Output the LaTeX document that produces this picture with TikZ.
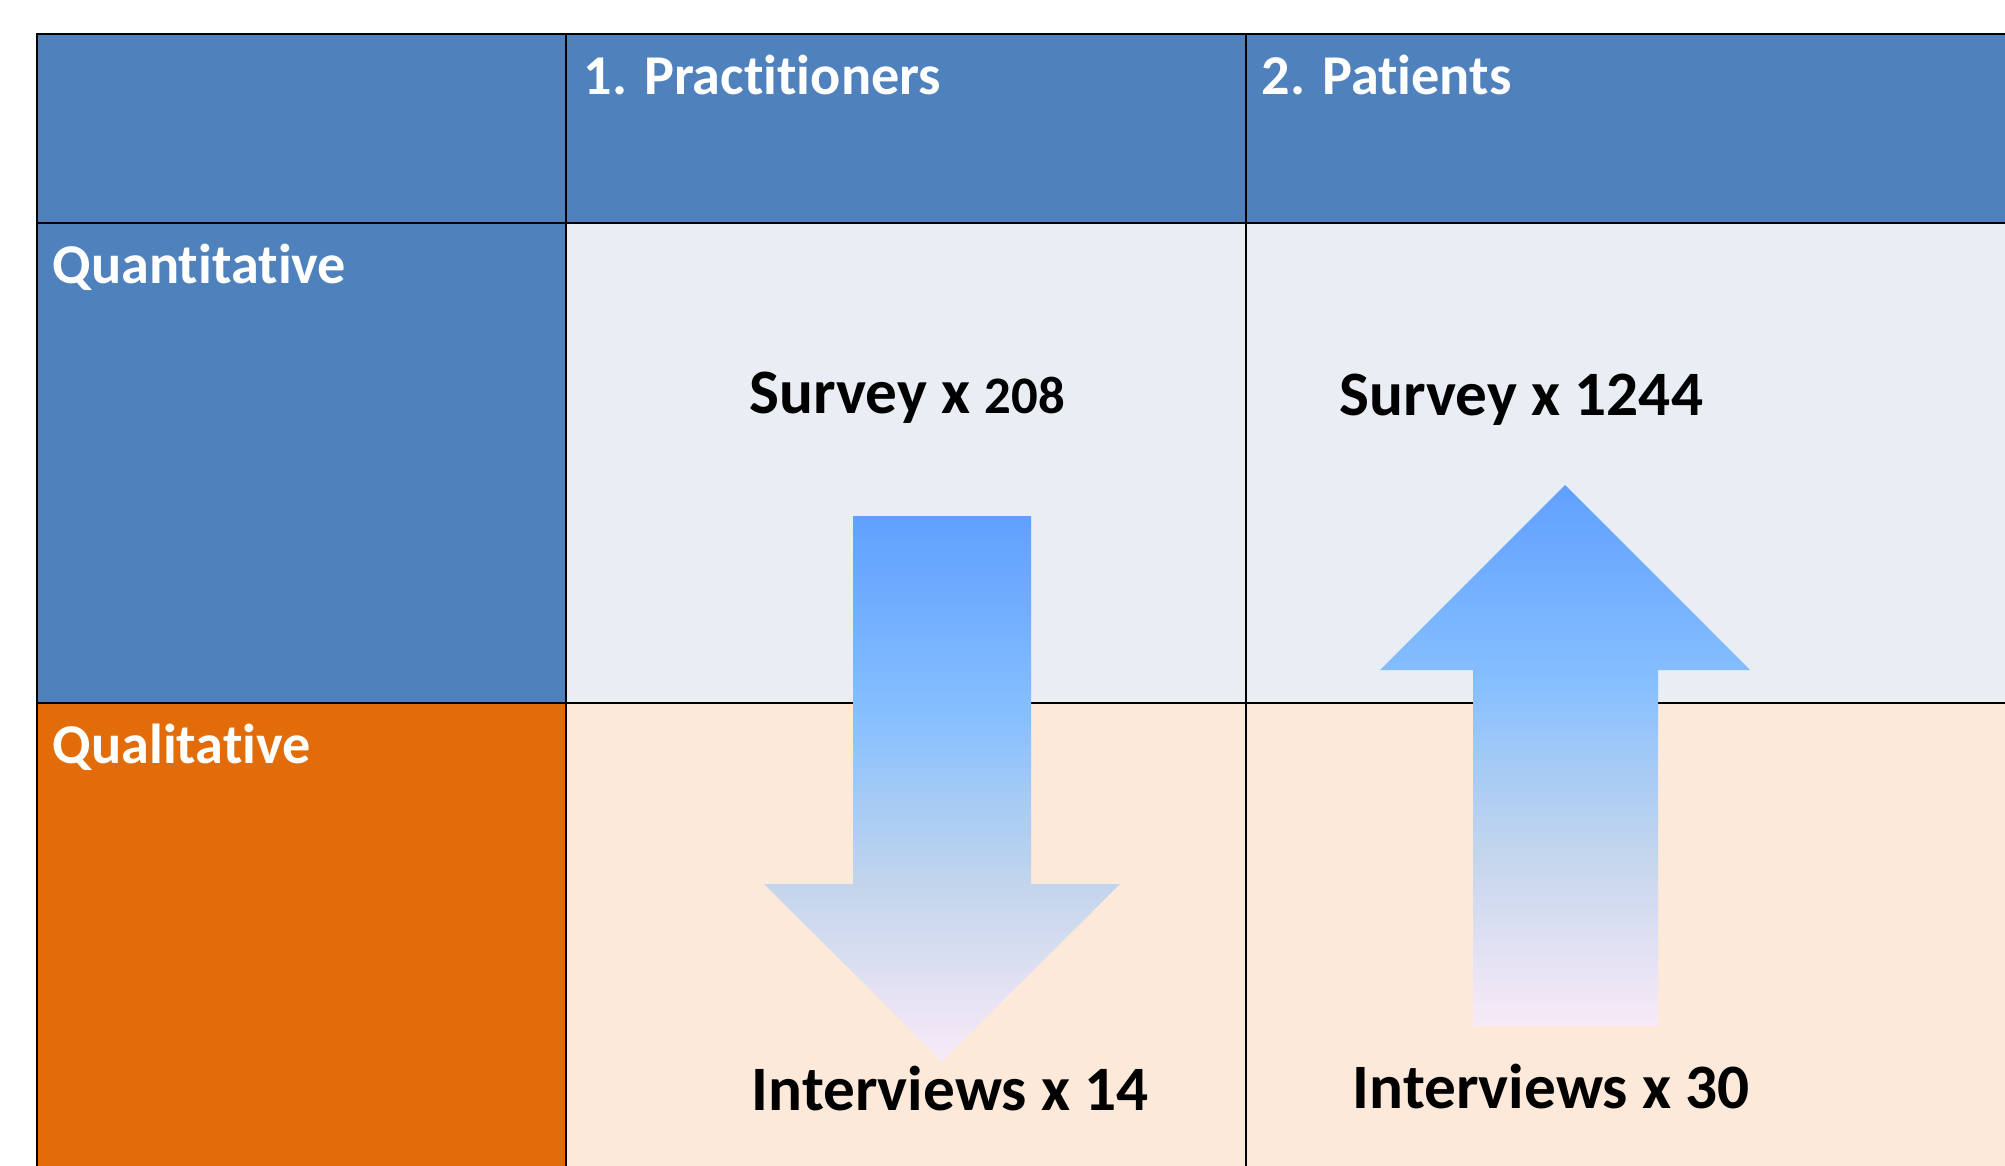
\documentclass[tikz,border=0pt]{standalone}
\usepackage{fontspec}
\setmainfont{Carlito}[Ligatures=NoCommon]
\usetikzlibrary{positioning}
\definecolor{hdrblue}{HTML}{4F81BD}
\definecolor{roworange}{HTML}{E36C0A}
\definecolor{quantbg}{HTML}{E9EDF4}
\definecolor{qualbg}{HTML}{FDE9D9}
\definecolor{fadetop}{HTML}{60A0FF}
\definecolor{fademid}{HTML}{88C0FF}
\definecolor{fadepale}{HTML}{A2C9F6}
\definecolor{fadegrey}{HTML}{C3D5EC}
\definecolor{fadelav}{HTML}{E0E0F2}
\definecolor{fadepink}{HTML}{F8EAF8}
\pgfdeclareverticalshading{arrowfade}{100bp}{color(0bp)=(fadepink); color(25bp)=(fadepink); color(32.5bp)=(fadelav); color(41bp)=(fadegrey); color(50bp)=(fadepale); color(56bp)=(fademid); color(75bp)=(fadetop); color(100bp)=(fadetop)}
\tikzset{
    heading/.style={text=white, font=\bfseries\fontsize{16}{19}\selectfont, anchor=base west, inner sep=0pt},
    count/.style={text=black, font=\bfseries\fontsize{18}{22}\selectfont, anchor=base west, inner sep=0pt},
    gridline/.style={line width=0.6pt, black},
    blockarrow/.style={shading=arrowfade, draw=none}
}

\begin{document}
\begin{tikzpicture}
\clip (0,0) rectangle (20.05,-11.66);
\fill[hdrblue] (0.37,-0.34) rectangle (21,-2.23);
\fill[hdrblue] (0.37,-2.23) rectangle (5.66,-7.03);
\fill[roworange] (0.37,-7.03) rectangle (5.66,-12);
\fill[quantbg] (5.66,-2.23) rectangle (21,-7.03);
\fill[qualbg] (5.66,-7.03) rectangle (21,-12);
\draw[gridline]
(0.37,-12) -- (0.37,-0.34) -- (21,-0.34)
(0.37,-2.23) -- (21,-2.23)
(0.37,-7.03) -- (21,-7.03)
(5.66,-0.34) -- (5.66,-12)
(12.46,-0.34) -- (12.46,-12);
\path[blockarrow] (8.53,-5.16) -- (10.31,-5.16) -- (10.31,-8.84) -- (11.20,-8.84) -- (9.42,-10.61) -- (7.64,-8.84) -- (8.53,-8.84) -- cycle;
\path[blockarrow] (15.65,-4.85) -- (17.50,-6.70) -- (16.58,-6.70) -- (16.58,-10.26) -- (14.73,-10.26) -- (14.73,-6.70) -- (13.80,-6.70) -- cycle;
\node[heading] (practitioners) at (5.83,-0.94) {1. Practitioners};
\node[heading] (patients) at (12.61,-0.94) {2. Patients};
\node[heading] (quant) at (0.52,-2.83) {Quantitative};
\node[heading] (qual) at (0.52,-7.63) {Qualitative};
\node[count] (surveyprac) at (7.49,-4.13) {Survey x {\fontsize{15}{18}\selectfont 208}};
\node[count] (surveypat) at (13.39,-4.15) {Survey x 1244};
\node[count] (intprac) at (7.51,-11.10) {Interviews x 14};
\node[count] (intpat) at (13.52,-11.08) {Interviews x 30};
\end{tikzpicture}
\end{document}
